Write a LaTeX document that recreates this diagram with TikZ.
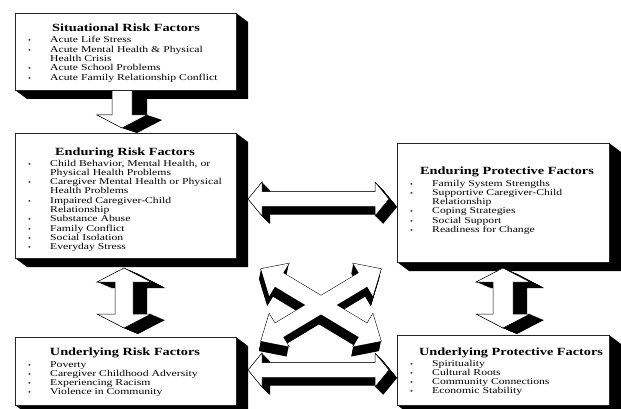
\documentclass[tikz,border=0pt]{standalone}
\usepackage{graphicx}
\usepackage{fontspec}
\setmainfont[FakeStretch=1.3]{Liberation Serif}
\newcommand\bl{\makebox[22pt][l]{\scalebox{0.7}{\textbullet}}}
\newcommand\cn{\hspace*{22pt}}
\newcommand\lines[1]{\begin{tabular}[t]{@{}l@{}}#1\end{tabular}}
\tikzset{
 ttl/.style={font=\bfseries\fontsize{11}{12}\selectfont, anchor=base, inner sep=0pt},
 lst/.style={font=\fontsize{9}{9.3}\selectfont, anchor=base west, inner sep=0pt},
 boxface/.style={fill=white, draw=black!85, line width=0.6pt},
 ext/.style={fill=black},
 arrface/.style={fill=white, draw=black, line width=0.5pt}
}
\newcommand\boxshadow[4]{\fill[ext] (#3,#2) -- ({#3+12},{#2+9}) -- ({#3+12},{#4+9}) -- ({#1+12},{#4+9}) -- (#1,#4) -- cycle;}
\newcommand\boxfront[4]{\draw[boxface] (#1,#2) rectangle (#3,#4);}
\newcommand\arrowthree[3]{%
 \foreach \t in {0,0.05,...,1.0001}{\fill[ext,shift={(\t*#1,\t*#2)}] #3;}
 \draw[arrface] #3;}
\newcommand\xarm[1]{\path[#1] (-70,0) -- (-49,-19) -- (-49,-8) -- (49,-8) -- (49,-19) -- (70,0) -- (49,19) -- (49,8) -- (-49,8) -- (-49,19) -- cycle;}
\begin{document}
\begin{tikzpicture}[x=1pt,y=-1pt]
\useasboundingbox (0,0) rectangle (621,409);
\fill[white] (0,0) rectangle (621,409);
% box shadows
\boxshadow{15}{13}{236}{90}
\boxshadow{15}{133}{236}{258}
\boxshadow{397}{143}{609}{262}
\boxshadow{15}{337}{236}{405}
\boxshadow{397}{335}{609}{405}
% arrows
\arrowthree{15}{5}{(112,85) -- (132,85) -- (132,115) -- (147,115) -- (122,128) -- (97,115) -- (112,115) -- cycle}
\arrowthree{14}{6}{(124,268) -- (151,282) -- (133,282) -- (133,314) -- (151,314) -- (124,328) -- (97,314) -- (115,314) -- (115,282) -- (97,282) -- cycle}
\arrowthree{14}{6}{(503,268) -- (530,282) -- (513,282) -- (513,314) -- (530,314) -- (503,328) -- (476,314) -- (493,314) -- (493,282) -- (476,282) -- cycle}
\arrowthree{8}{8}{(248,199) -- (262,182) -- (262,191.5) -- (375,191.5) -- (375,182) -- (389,199) -- (375,216) -- (375,206.5) -- (262,206.5) -- (262,216) -- cycle}
\arrowthree{8}{8}{(248,370) -- (262,353) -- (262,362.5) -- (375,362.5) -- (375,353) -- (389,370) -- (375,387) -- (375,377.5) -- (262,377.5) -- (262,387) -- cycle}
% X arrows
\foreach \t in {0,0.05,...,1.0001}{
 \xarm{ext,shift={(321-2*\t,305+10*\t)},rotate=31}
 \xarm{ext,shift={(321-2*\t,305+10*\t)},rotate=-31}
}
\xarm{draw=black,line width=1pt,shift={(321,305)},rotate=31}
\xarm{draw=black,line width=1pt,shift={(321,305)},rotate=-31}
\xarm{fill=white,shift={(321,305)},rotate=31}
\xarm{fill=white,shift={(321,305)},rotate=-31}
% box faces
\boxfront{15}{13}{236}{90}
\boxfront{15}{133}{236}{258}
\boxfront{397}{143}{609}{262}
\boxfront{15}{337}{236}{405}
\boxfront{397}{335}{609}{405}
% texts
\node[ttl] (sitT) at (126,32) {Situational Risk Factors};
\node[lst] (sitL) at (28,43) {\lines{\bl Acute Life Stress\\\bl Acute Mental Health \& Physical\\\cn Health Crisis\\\bl Acute School Problems\\\bl Acute Family Relationship Conflict}};
\node[ttl] (endRT) at (125,156) {Enduring Risk Factors};
\node[lst] (endRL) at (28,166) {\lines{\bl Child Behavior, Mental Health, or\\\cn Physical Health Problems\\\bl Caregiver Mental Health or Physical\\\cn Health Problems\\\bl Impaired Caregiver-Child\\\cn Relationship\\\bl Substance Abuse\\\bl Family Conflict\\\bl Social Isolation\\\bl Everyday Stress}};
\node[ttl] (endPT) at (507,174) {Enduring Protective Factors};
\node[lst] (endPL) at (410,186) {\lines{\bl Family System Strengths\\\bl Supportive Caregiver-Child\\\cn Relationship\\\bl Coping Strategies\\\bl Social Support\\\bl Readiness for Change}};
\node[ttl] (undRT) at (125,355) {Underlying Risk Factors};
\node[lst] (undRL) at (28,367) {\lines{\bl Poverty\\\bl Caregiver Childhood Adversity\\\bl Experiencing Racism\\\bl Violence in Community}};
\node[ttl] (undPT) at (511,355) {Underlying Protective Factors};
\node[lst] (undPL) at (410,366) {\lines{\bl Spirituality\\\bl Cultural Roots\\\bl Community Connections\\\bl Economic Stability}};
\end{tikzpicture}
\end{document}
